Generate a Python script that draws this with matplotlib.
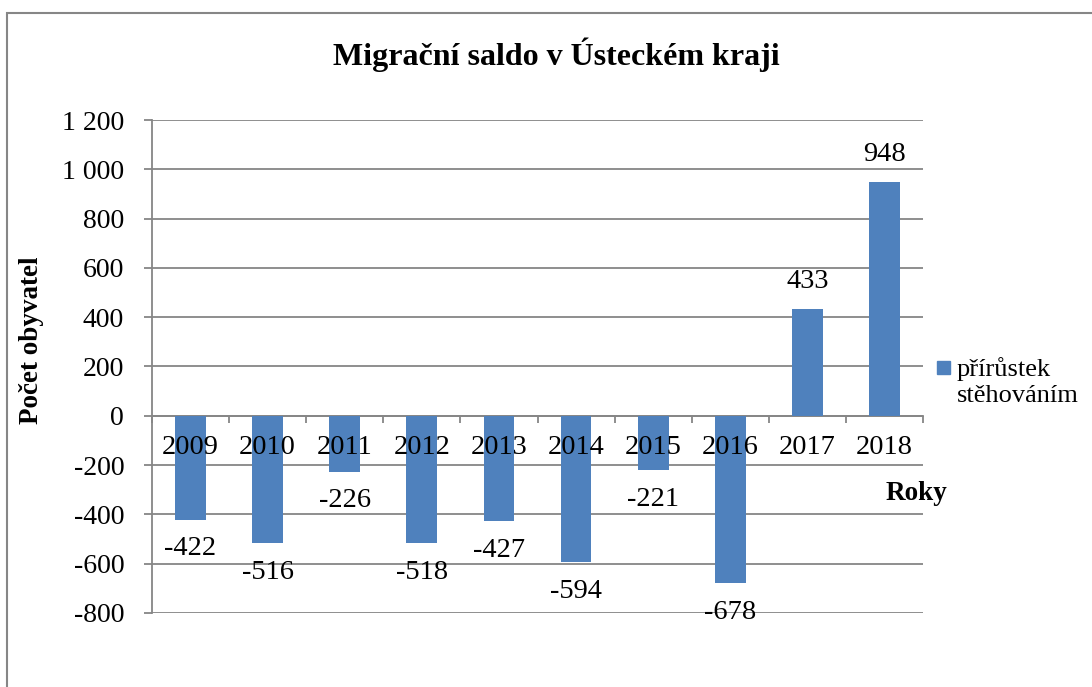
import matplotlib
matplotlib.use("Agg")
import matplotlib.pyplot as plt
from matplotlib.patches import Rectangle
from matplotlib.ticker import FuncFormatter, MultipleLocator
import numpy as np

roky = ["2009", "2010", "2011", "2012", "2013", "2014", "2015", "2016", "2017", "2018"]
saldo = [-422, -516, -226, -518, -427, -594, -221, -678, 433, 948]

plt.rcParams['font.family'] = ['Liberation Serif', 'DejaVu Serif']

W, H = 1092, 687
fig = plt.figure(figsize=(W / 100, H / 100), dpi=100)

# chart area border (runs off the right and bottom edge)
fig.patches.append(Rectangle((7 / W, -0.1), 1.2, 1 - 13 / H + 0.1, transform=fig.transFigure,
                             fill=False, edgecolor="#868686", linewidth=1.5))

ax = fig.add_axes([152 / W, (H - 613) / H, (923 - 152) / W, (613 - 120) / H])
x = np.arange(len(roky))
ax.bar(x, saldo, width=0.4, color="#4F81BD", zorder=3)

ax.set_xlim(-0.5, len(roky) - 0.5)
ax.set_ylim(-800, 1200)
ax.yaxis.set_major_locator(MultipleLocator(200))
ax.yaxis.set_major_formatter(FuncFormatter(lambda v, p: f"{int(v):,}".replace(",", " ")))
ax.grid(axis="y", color="#868686", linewidth=1.3, zorder=0)

for s in ["top", "right"]:
    ax.spines[s].set_visible(False)
ax.spines["left"].set_color("#868686")
ax.spines["left"].set_linewidth(1.3)
ax.spines["bottom"].set_position(("data", 0))
ax.spines["bottom"].set_color("#868686")
ax.spines["bottom"].set_linewidth(1.3)

# category labels sit on top of the bars, so draw them as text
ax.set_xticks(x)
ax.set_xticklabels([])
ax.set_xticks(np.arange(len(roky) + 1) - 0.5, minor=True)
ax.tick_params(axis="x", which="major", length=0)
ax.tick_params(axis="x", which="minor", length=5, direction="out", color="#868686", width=1.3)
ax.tick_params(axis="y", length=6, color="#868686", width=1.3, pad=14, labelsize=20)
for xi, r in zip(x, roky):
    ax.annotate(r, (xi, 0), xytext=(0, -22.5), textcoords="offset points",
                ha="center", va="center", fontsize=20.5, zorder=5)

for xi, v in zip(x, saldo):
    off = 20 if v > 0 else -21
    ax.annotate(str(v), (xi, v), xytext=(0, off), textcoords="offset points",
                ha="center", va="center", fontsize=20.5, zorder=4)

fig.text(556 / W, 1 - 55 / H, "Migrační saldo v Ústeckém kraji", ha="center", va="center",
         fontsize=23, fontweight="bold")
fig.text(32 / W, 1 - 340 / H, "Počet obyvatel", ha="center", va="center", rotation=90,
         fontsize=19.5, fontweight="bold")
fig.text(916 / W, 1 - 493 / H, "Roky", ha="center", va="center", fontsize=19.5, fontweight="bold")

fig.patches.append(Rectangle((937 / W, 1 - 374 / H), 13 / W, 13 / H, transform=fig.transFigure,
                             color="#4F81BD"))
fig.text(957 / W, 1 - 382 / H, "přírůstek\nstěhováním", ha="left", va="center",
         fontsize=19, linespacing=1.2)

fig.savefig("out.png", dpi=100)
